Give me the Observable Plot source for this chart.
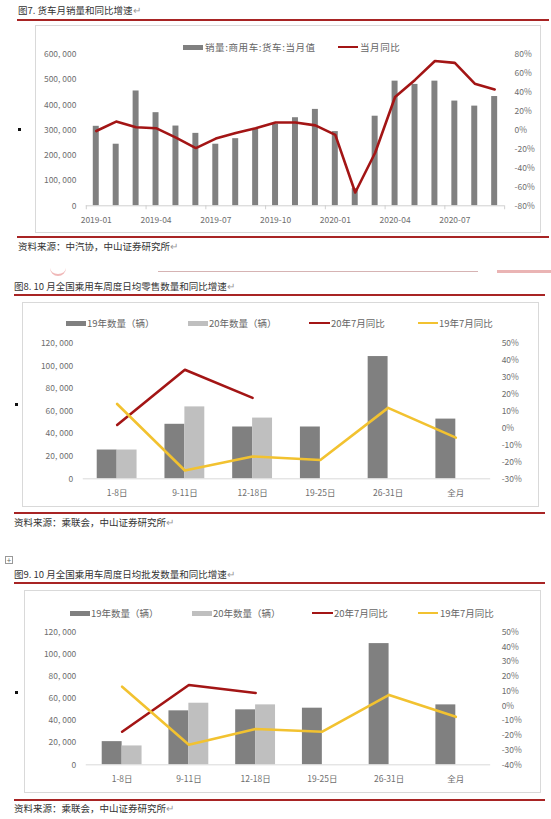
<!DOCTYPE html>
<html>
<head>
<meta charset="utf-8">
<script src="https://cdn.jsdelivr.net/npm/d3@7"></script>
<script src="https://cdn.jsdelivr.net/npm/@observablehq/plot@0.6"></script>
<style>
  body { margin: 0; background: #fff; }
  #page { position: relative; width: 551px; height: 819px; overflow: hidden; font-family: "Noto Sans CJK SC", "Noto Sans", sans-serif; background: #fff; }
  .abs { position: absolute; }
  .cap { font-size: 9.5px; color: #333; white-space: nowrap; line-height: 12px; }
  .rule { height: 2px; background: #a82424; }
  .box { border: 1px solid #d9d9d9; box-sizing: border-box; background: #fff; }
  .box svg { position: absolute; left: 0; top: 0; }
  .leg { font-size: 9.5px; color: #666; white-space: nowrap; line-height: 12px; }
  .bullet { width: 3px; height: 3px; background: #111; }
</style>
</head>
<body>
<div id="page"></div>
<script>
// ---------- Data ----------
// Figure 7
const months = ["2019-01","2019-02","2019-03","2019-04","2019-05","2019-06","2019-07","2019-08","2019-09","2019-10","2019-11","2019-12",
                "2020-01","2020-02","2020-03","2020-04","2020-05","2020-06","2020-07","2020-08","2020-09"];
const truckSales = [315000, 244000, 455000, 369000, 316000, 287000, 244000, 266000, 303000, 323000, 349000, 382000,
                    294000, 68000, 355000, 494000, 481000, 494000, 415000, 395000, 433000];
const truckYoY = [-1, 9, 3, 2, -8, -19, -9, -3, 2, 8, 8, 5, -5, -66, -24, 35, 53, 73, 71, 49, 43];
const fig7LeftTicks = [0, 100000, 200000, 300000, 400000, 500000, 600000];
const fig7RightTicks = [-80, -60, -40, -20, 0, 20, 40, 60, 80];
const fig7XTicks = ["2019-01","2019-04","2019-07","2019-10","2020-01","2020-04","2020-07"];

// Figure 8 / 9 categories
const weeks = ["1-8日","9-11日","12-18日","19-25日","26-31日","全月"];
// Figure 8 retail
const retail19 = [25500, 48300, 45900, 45900, 108300, 52900];
const retail20 = [25500, 63700, 53800, null, null, null];
const retailYoY20 = [1.8, 34.4, 17.8, null, null, null];
const retailYoY19 = [14.2, -25.1, -16.8, -18.9, 11.9, -5.7];
// Figure 9 wholesale
const whole19 = [21000, 48900, 49800, 51300, 109800, 54300];
const whole20 = [17100, 55800, 54300, null, null, null];
const wholeYoY20 = [-17.5, 14.2, 8.8, null, null, null];
const wholeYoY19 = [13.1, -26.3, -15.7, -17.5, 7.5, -7.4];
const weekLeftTicks = [0, 20000, 40000, 60000, 80000, 100000, 120000];
const fig8RightTicks = [-30, -20, -10, 0, 10, 20, 30, 40, 50];
const fig9RightTicks = [-40, -30, -20, -10, 0, 10, 20, 30, 40, 50];

// ---------- Helpers ----------
const page = document.getElementById("page");
const FONT = '"Noto Sans CJK SC", "Noto Sans", sans-serif';
const RED = "#a31515", YEL = "#f2c230", DARK = "#808080", LIGHT = "#bfbfbf", AX = "#6e6e6e";
const numFmt = v => v === 0 ? "0" : d3.format(",")(v).replace(/,/g, ", ");

function el(cls, css, html) {
  const d = document.createElement("div");
  d.className = cls;
  Object.assign(d.style, css);
  if (html != null) d.innerHTML = html;
  page.appendChild(d);
  return d;
}
function text(cls, left, cy, s, extra) {
  return el("abs " + cls, Object.assign({left: left + "px", top: (cy - 6) + "px"}, extra || {}), s);
}
function rule(x1, x2, y) {
  el("abs rule", {left: x1 + "px", width: (x2 - x1) + "px", top: (y - 1) + "px"});
}
function swatchRect(x, w, cy, color) {
  el("abs", {left: x + "px", top: (cy - 2.5) + "px", width: w + "px", height: "5px", background: color});
}
function swatchLine(x, w, cy, color) {
  el("abs", {left: x + "px", top: (cy - 1) + "px", width: w + "px", height: "2px", background: color});
}
function box(x, y, w, h) {
  return el("abs box", {left: x + "px", top: y + "px", width: w + "px", height: h + "px"});
}

// ---------- Page furniture ----------
// Figure 7
text("cap", 18, 10, "图7. 货车月销量和同比增速<span style='color:#999'>↵</span>");
rule(17, 549, 20);
const b1 = box(35, 25, 506, 208);
rule(17, 549, 237);
text("cap", 18, 246, "资料来源：中汽协，中山证券研究所<span style='color:#999'>↵</span>");
el("abs bullet", {left: "18px", top: "128px"});

// Scan artifacts between figures
el("abs", {left: "50px", top: "268px", width: "16px", height: "8px", borderBottom: "2px solid #f0b8b8", borderRadius: "0 0 8px 8px", boxSizing: "border-box"});
el("abs", {left: "158px", top: "271px", width: "320px", height: "1px", background: "#d6b3b3"});
el("abs", {left: "497px", top: "270px", width: "54px", height: "3px", background: "#eab4b4"});

// Figure 8
text("cap", 14, 286, "图8. 10 月全国乘用车周度日均零售数量和同比增速<span style='color:#999'>↵</span>");
rule(14, 545, 295);
const b2 = box(22, 302, 517, 205);
rule(14, 545, 513);
text("cap", 14, 522, "资料来源：乘联会，中山证券研究所<span style='color:#999'>↵</span>");
el("abs bullet", {left: "15px", top: "403px"});

// Figure 9
el("abs", {left: "5px", top: "556px", width: "8px", height: "8px", border: "1px solid #999", boxSizing: "border-box", fontSize: "8px", lineHeight: "6px", textAlign: "center", color: "#666"}, "+");
text("cap", 14, 574, "图9. 10 月全国乘用车周度日均批发数量和同比增速<span style='color:#999'>↵</span>");
rule(14, 545, 583);
const b3 = box(24, 590, 517, 203);
rule(14, 545, 800);
text("cap", 14, 808, "资料来源：乘联会，中山证券研究所<span style='color:#999'>↵</span>");
el("abs bullet", {left: "15px", top: "691px"});

// ---------- Legends ----------
swatchRect(183, 20, 47, DARK);
text("leg", 205, 47, "销量:商用车:货车:当月值", {letterSpacing: "0.6px"});
swatchLine(338, 20, 47, RED);
text("leg", 360, 47, "当月同比", {letterSpacing: "0.6px"});

swatchRect(66, 20, 323, DARK);  text("leg", 87, 323, "19年数量（辆）");
swatchRect(188, 20, 323, LIGHT); text("leg", 209, 323, "20年数量（辆）");
swatchLine(309, 21, 323, RED);  text("leg", 331, 323, "20年7月同比");
swatchLine(418, 20, 323, YEL);  text("leg", 439, 323, "19年7月同比");

swatchRect(70, 20, 613, DARK);  text("leg", 91, 613, "19年数量（辆）");
swatchRect(192, 20, 613, LIGHT); text("leg", 213, 613, "20年数量（辆）");
swatchLine(312, 21, 613, RED);  text("leg", 334, 613, "20年7月同比");
swatchLine(418, 20, 613, YEL);  text("leg", 440, 613, "19年7月同比");

const baseStyle = {fontFamily: FONT, fontSize: "8.5px", color: AX, background: "transparent", overflow: "visible"};

// ---------- Figure 7 chart ----------
{
  const pct = d3.scaleLinear().domain([-80, 80]).range([0, 600000]);
  const rows = months.map((m, i) => ({m, v: truckSales[i], p: truckYoY[i]}));
  const chart = Plot.plot({
    width: 506, height: 208,
    marginTop: 28, marginBottom: 28, marginLeft: 50, marginRight: 36,
    style: baseStyle,
    x: {type: "band", domain: months, paddingInner: 0.715, paddingOuter: 0.3575, axis: null, label: null},
    y: {domain: [0, 600000], axis: null, label: null},
    marks: [
      Plot.barY(rows, {x: "m", y: "v", fill: DARK}),
      Plot.ruleY([0], {stroke: "#d0d0d0"}),
      Plot.ruleX(fig7XTicks, {x: d => d, y1: 0, y2: 0, dx: -10, insetBottom: -4, stroke: "#d0d0d0"}),
      Plot.ruleX([months[months.length - 1]], {x: d => d, y1: 0, y2: 0, dx: 10, insetBottom: -4, stroke: "#d0d0d0"}),
      Plot.line(rows, {x: "m", y: d => pct(d.p), stroke: RED, strokeWidth: 2.6, strokeLinejoin: "round"}),
      Plot.axisY({anchor: "left", ticks: fig7LeftTicks, tickFormat: numFmt, tickSize: 0, tickPadding: 10, label: null}),
      Plot.axisY({anchor: "right", ticks: fig7RightTicks.map(pct), tickFormat: v => Math.round(pct.invert(v)) + "%", tickSize: 0, tickPadding: 10, label: null}),
      Plot.axisX({ticks: fig7XTicks, tickSize: 0, tickPadding: 11, label: null})
    ]
  });
  b1.appendChild(chart);
}

// ---------- Figure 8 / 9 charts ----------
function weekChart(host, opts) {
  const pct = d3.scaleLinear().domain(opts.pctDomain).range([0, 120000]);
  const rows = weeks.map((w, i) => ({w, a: opts.v19[i], b: opts.v20[i], r: opts.red[i], y: opts.yel[i]}));
  const chart = Plot.plot({
    width: opts.width, height: opts.height,
    marginTop: opts.mt, marginBottom: opts.mb, marginLeft: opts.ml, marginRight: opts.mr,
    style: baseStyle,
    x: {type: "band", domain: weeks, paddingInner: 0.41, paddingOuter: 0.205, axis: null, label: null},
    y: {domain: [0, 120000], axis: null, label: null},
    marks: [
      Plot.barY(rows, {x: "w", y: "a", fill: DARK, insetRight: opts.half}),
      Plot.barY(rows.filter(d => d.b != null), {x: "w", y: "b", fill: LIGHT, insetLeft: opts.half}),
      Plot.ruleY([0], {stroke: "#d9d9d9"}),
      Plot.line(rows.filter(d => d.r != null), {x: "w", y: d => pct(d.r), stroke: RED, strokeWidth: 2.6, strokeLinejoin: "round"}),
      Plot.line(rows, {x: "w", y: d => pct(d.y), stroke: YEL, strokeWidth: 2.6, strokeLinejoin: "round"}),
      Plot.axisY({anchor: "left", ticks: weekLeftTicks, tickFormat: numFmt, tickSize: 0, tickPadding: 10, label: null}),
      Plot.axisY({anchor: "right", ticks: opts.rightTicks.map(pct), tickFormat: v => Math.round(pct.invert(v)) + "%", tickSize: 0, tickPadding: 11, label: null}),
      Plot.axisX({tickSize: 0, tickPadding: 11, label: null})
    ]
  });
  host.appendChild(chart);
}

weekChart(b2, {width: 517, height: 205, mt: 40, mb: 29, ml: 60, mr: 48, half: 20,
  pctDomain: [-30, 50], rightTicks: fig8RightTicks,
  v19: retail19, v20: retail20, red: retailYoY20, yel: retailYoY19});

weekChart(b3, {width: 517, height: 203, mt: 41, mb: 29, ml: 61, mr: 50, half: 20,
  pctDomain: [-40, 50], rightTicks: fig9RightTicks,
  v19: whole19, v20: whole20, red: wholeYoY20, yel: wholeYoY19});
</script>
</body>
</html>
